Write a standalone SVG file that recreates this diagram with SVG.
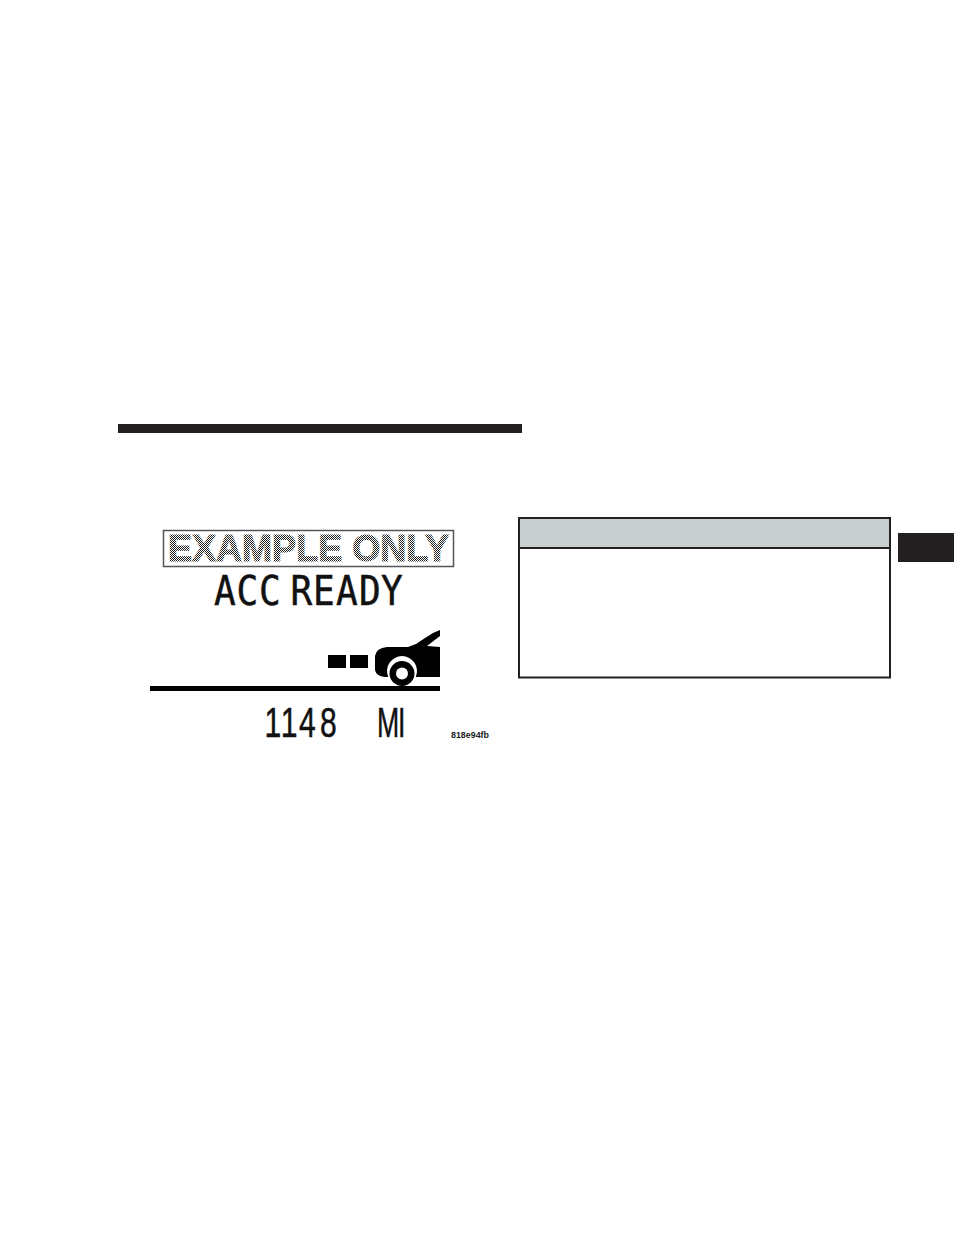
<svg xmlns="http://www.w3.org/2000/svg" width="954" height="1235" viewBox="0 0 954 1235">
<style>
.k{fill:#231f20}
.lcd{font-family:"Liberation Sans",Arial,sans-serif;fill:#111;stroke:#111;stroke-width:.5}
</style>
<defs>
<pattern id="dither" width="2" height="2" patternUnits="userSpaceOnUse">
<rect width="2" height="2" fill="#fff"/>
<rect width="1" height="1" fill="#222"/>
<rect x="1" y="1" width="1" height="1" fill="#222"/>
</pattern>
</defs>
<rect width="954" height="1235" fill="#fff"/>
<g id="rule"><rect class="k" x="118" y="424" width="404" height="9"/></g>
<g id="tab"><rect class="k" x="898" y="533" width="56" height="29"/></g>
<g id="note">
<rect x="519" y="518" width="371" height="30" fill="#c8cdcf"/>
<rect x="519" y="518" width="371" height="159.500" fill="none" stroke="#231f20" stroke-width="2"/>
<line x1="519" y1="548" x2="890" y2="548" stroke="#231f20" stroke-width="2"/>
</g>
<g id="display">
<rect x="163.500" y="530.500" width="290" height="36" fill="#fff" stroke="#555" stroke-width="1.500"/>
<text x="168" y="560.500" font-family="'Liberation Sans',Arial,sans-serif" font-weight="700" font-size="36" fill="url(#dither)" stroke="url(#dither)" stroke-width="1" textLength="281" lengthAdjust="spacingAndGlyphs">EXAMPLE ONLY</text>
<text transform="translate(214,605) scale(.88,1)" font-family="'DejaVu Sans Mono',monospace" font-size="41" fill="#111" stroke="#111" stroke-width=".5" x="0 25.600 51.100 70 86.900 112.500 138.600 164.800 189.800" y="0">ACC READY</text>
<text class="lcd" transform="translate(0,737) scale(.7,1)" font-size="43" x="378 401 427 457" y="0">1148</text>
<text class="lcd" transform="translate(0,737) scale(.62,1)" font-size="43" x="608 642" y="0">MI</text>
<text x="451" y="738" font-family="'Liberation Sans',Arial,sans-serif" font-weight="700" font-size="9" fill="#222" textLength="38" lengthAdjust="spacingAndGlyphs">818e94fb</text>
</g>
<g id="car">
<rect x="328" y="655" width="18" height="13"/>
<rect x="350" y="655" width="18" height="13"/>
<path d="M440 630 L433 633 L425 638 L416 644 L408 647 L387 647 Q376 648 375 656 L375 670 Q376 676 385 677 L388.200 677 A15 15 0 1 1 415.800 677 L440 677 L440 647 L427 646 L440 636 Z"/>
<path d="M150 686 H440 V691 H150 Z"/>
<circle cx="402" cy="673.500" r="12.500"/>
<circle cx="402" cy="673.500" r="6" fill="#fff"/>
</g>
</svg>
